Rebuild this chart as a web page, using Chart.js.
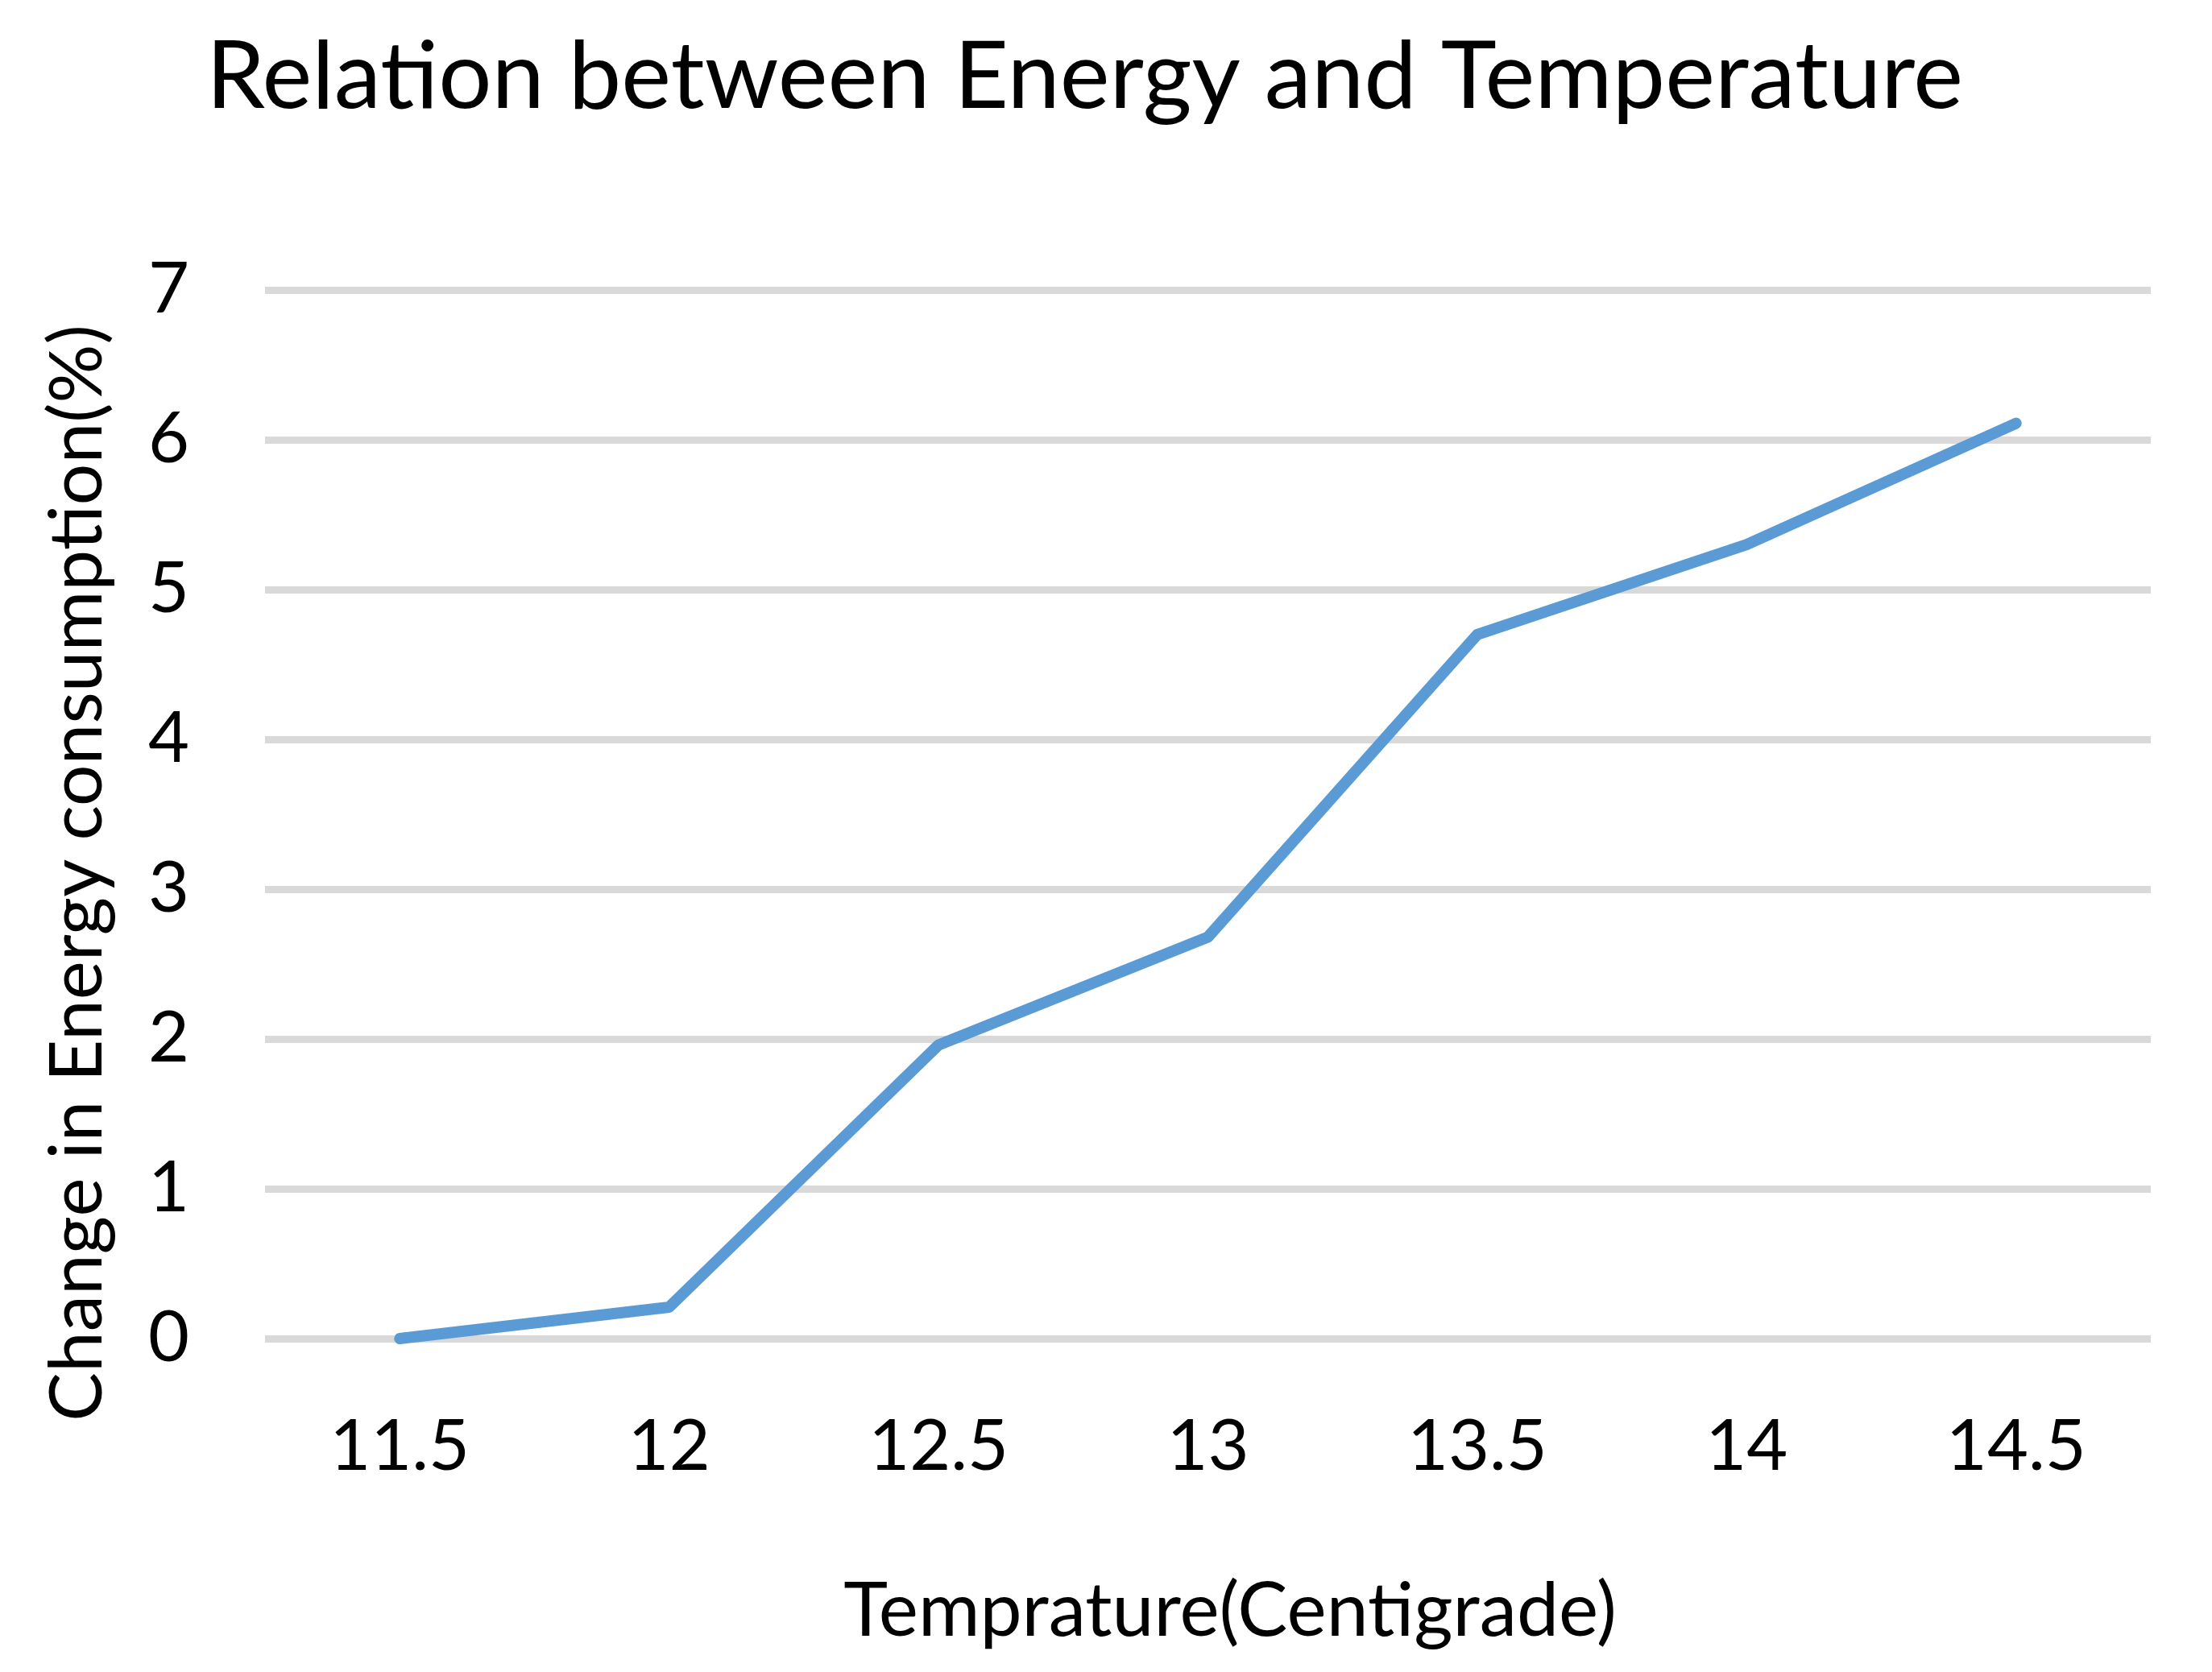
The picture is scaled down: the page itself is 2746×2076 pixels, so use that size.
<!DOCTYPE html>
<html><head><meta charset="utf-8">
<script src="https://cdn.jsdelivr.net/npm/chart.js@4/dist/chart.umd.min.js"></script>
<style>html,body{margin:0;padding:0;background:#fff;} canvas{display:block;}</style>
</head><body>
<canvas id="c" width="2746" height="2076" style="width:2746px;height:2076px"></canvas>
<script>
const chartTitle = 'Relation between Energy and Temperature';
const xAxisTitle = 'Temprature(Centigrade)';
const yAxisTitle = 'Change in Energy consumption(%)';
const temperatures = ['11.5', '12', '12.5', '13', '13.5', '14', '14.5'];
const energyChange = [0, 0.21, 1.96, 2.68, 4.70, 5.30, 6.11];
const yTicks = [0, 1, 2, 3, 4, 5, 6, 7];

const FONT = 'Lato';

const bgPlugin = {
  id: 'bg',
  beforeDraw(chart) {
    const ctx = chart.ctx;
    ctx.save();
    ctx.fillStyle = '#ffffff';
    ctx.fillRect(0, 0, chart.width, chart.height);
    ctx.restore();
  }
};

// Axis titles placed as in the original (offset from the axis centre)
const axisTitlePlugin = {
  id: 'axisTitles',
  afterDraw(chart) {
    const ctx = chart.ctx;
    ctx.save();
    ctx.fillStyle = '#000';
    ctx.textAlign = 'center';
    ctx.textBaseline = 'alphabetic';
    ctx.font = '93px ' + FONT;
    ctx.fillText(xAxisTitle, 1527, 2031);
    ctx.translate(126, 1084);
    ctx.rotate(-Math.PI / 2);
    ctx.font = '91px ' + FONT;
    ctx.fillText(yAxisTitle, 0, 0);
    ctx.restore();
  }
};

new Chart(document.getElementById('c'), {
  type: 'line',
  data: {
    labels: temperatures,
    datasets: [{
      data: energyChange,
      borderColor: '#5b9bd5',
      backgroundColor: '#5b9bd5',
      borderWidth: 14,
      pointRadius: 0,
      pointHoverRadius: 0,
      borderCapStyle: 'round',
      borderJoinStyle: 'round',
      tension: 0,
      fill: false,
      clip: false
    }]
  },
  options: {
    responsive: false,
    devicePixelRatio: 1,
    animation: false,
    layout: { padding: { left: 23, right: 76, top: 0, bottom: 0 } },
    plugins: {
      legend: { display: false },
      tooltip: { enabled: false },
      title: {
        display: true,
        text: chartTitle,
        color: '#000',
        font: { family: FONT, size: 117, weight: 'normal' },
        padding: { top: 26, bottom: 193.6 }
      }
    },
    scales: {
      x: {
        type: 'category',
        offset: true,
        grid: { display: false },
        border: { display: false },
        ticks: {
          color: '#000',
          font: { family: FONT, size: 88 },
          padding: 74,
          maxRotation: 0,
          autoSkip: false
        },
        title: { display: false, text: xAxisTitle },
        afterFit(s) { s.height = 414; }
      },
      y: {
        min: yTicks[0],
        max: yTicks[yTicks.length - 1],
        afterBuildTicks(s) { s.ticks = yTicks.map(v => ({ value: v })); },
        grid: { color: '#d9d9d9', lineWidth: 9, drawTicks: false },
        border: { display: false },
        ticks: {
          color: '#000',
          font: { family: FONT, size: 88 },
          padding: 94
        },
        title: { display: false, text: yAxisTitle },
        afterFit(s) { s.width = 306; }
      }
    }
  },
  plugins: [bgPlugin, axisTitlePlugin]
});
</script>
</body></html>
